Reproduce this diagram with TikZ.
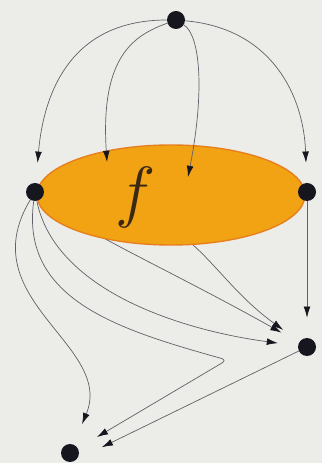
\documentclass[tikz,border=0pt]{standalone}
\usetikzlibrary{arrows.meta,shapes.geometric}
\pgfdeclarelayer{back}
\pgfdeclarelayer{mid}
\pgfsetlayers{back,mid,main}
\definecolor{paper}{HTML}{ECECE9}
\definecolor{gold}{HTML}{F2A314}
\definecolor{rim}{HTML}{E6801C}
\definecolor{wiregray}{HTML}{606068}
\definecolor{ink}{HTML}{16161E}
\definecolor{fink}{HTML}{3A2812}
\begin{document}
\begin{tikzpicture}[
	dot/.style={circle, fill=ink, inner sep=0pt, minimum size=4.5mm},
	wire/.style={draw=wiregray, line width=0.5pt, -{Latex[length=2.8mm,width=1.7mm,color=ink]}, shorten >=5mm},
	blob/.style={ellipse, fill=gold, draw=rim, line width=1pt, minimum width=6.7cm, minimum height=2.5cm, inner sep=0pt}
	]
	\useasboundingbox (0,0) rectangle (8.05,11.575);
	\begin{pgfonlayer}{back}
		\fill[paper] (0,0) rectangle (8.05,11.575);
	\end{pgfonlayer}
	% Points
	\node[dot] (T) at (4.4,11.075) {};
	\node[dot] (L) at (0.875,6.775) {};
	\node[dot] (R) at (7.675,6.775) {};
	\node[dot] (R2) at (7.675,2.9) {};
	\node[dot] (B) at (1.75,0.25) {};
	\coordinate (p1) at (2.675,7.525);
	\coordinate (p2) at (4.7,7.15);
	\coordinate (kink) at (5.675,2.575);
	% Ellipse
	\begin{pgfonlayer}{mid}
		\node[blob] (fbox) at (4.275,6.7) {};
		\node[text=fink] (fname) at (3.4,6.65) {\scalebox{1.95}{\Huge$f$}};
	\end{pgfonlayer}
	% Arrows from the top
	\draw[wire] (T) to[out=180, in=85, looseness=1.15] (L);
	\draw[wire, shorten >=0pt] (T) .. controls (3.375,10.7) and (2.5,10.2) .. (p1);
	\draw[wire, shorten >=0pt] (T) .. controls (5.0,10.7) and (5.125,9.325) .. (p2);
	\draw[wire] (T) to[out=-5, in=92, looseness=1.1] (R);
	% Arrows from the left
	\begin{pgfonlayer}{back}
		\draw[wire, shorten >=5.5mm] (L) .. controls (-0.75,4.075) and (2.875,2.95) .. (B);
		\draw[wire, shorten >=5.5mm, rounded corners=4pt] (L) .. controls (0.5,4.075) and (3.0,3.325) .. (kink) -- (B);
		\draw[wire] (L) .. controls (1.375,4.325) and (4.5,3.325) .. (R2);
		\draw[wire] (L) .. controls (1.8,5.9) and (4.25,4.825) .. (R2);
		\draw[wire] (L) .. controls (4.9,6.575) and (5.0,4.825) .. (R2);
	\end{pgfonlayer}
	% Right-hand Arrows
	\draw[wire] (R) -- (R2);
	\draw[wire, shorten >=7mm] (R2) -- (B.south east);
\end{tikzpicture}
\end{document}
